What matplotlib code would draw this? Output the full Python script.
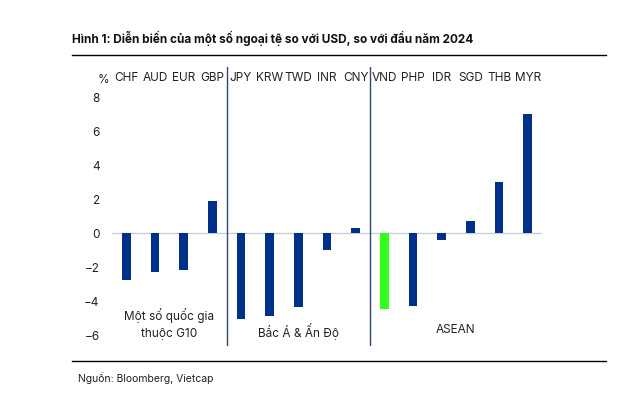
import numpy as np
import matplotlib.pyplot as plt

plt.rcParams['font.family'] = ['Inter', 'DejaVu Sans']

# Data: change vs USD since start of 2024 (%)
currencies = ['CHF', 'AUD', 'EUR', 'GBP', 'JPY', 'KRW', 'TWD', 'INR', 'CNY',
              'VND', 'PHP', 'IDR', 'SGD', 'THB', 'MYR']
changes = [-2.8, -2.32, -2.22, 1.83, -5.07, -4.9, -4.35, -1.05, 0.27,
           -4.5, -4.29, -0.41, 0.68, 2.96, 6.96]
groups = ['Một số quốc gia\nthuộc G10', 'Bắc Á & Ấn Độ', 'ASEAN']
group_sizes = [4, 5, 6]
highlight = 'VND'

navy = '#00318A'
green = '#33FF1F'

fig = plt.figure(figsize=(6.34, 4.10), dpi=100)
ax = fig.add_axes([112 / 634, 1 - 347 / 410, 430 / 634, 279 / 410])

x = np.arange(len(currencies))
colors = [green if c == highlight else navy for c in currencies]
ax.bar(x, changes, width=0.31, color=colors, zorder=3)
ax.axhline(0, color='#C9CED8', lw=1, zorder=1)

ax.set_xlim(-0.5, len(currencies) - 0.5)
ax.set_ylim(-6.65, 9.7)
ax.set_yticks(range(-6, 10, 2))
ax.tick_params(axis='y', length=0, pad=9, labelsize=8.5, labelcolor='#222222')
ax.set_xticks([])
for s in ax.spines.values():
    s.set_visible(False)

# currency labels along the top
for i, c in enumerate(currencies):
    ax.text(i, 9.1, c, ha='center', va='center', fontsize=8.5, color='#222222')
ax.text(-0.6, 9.0, '%', ha='right', va='center', fontsize=8.5, color='#222222',
        transform=ax.transData)

# group dividers and labels
edges = np.cumsum(group_sizes)
for e in edges[:-1]:
    ax.axvline(e - 0.5, color='#34466B', lw=1, zorder=2)
starts = np.concatenate([[0], edges[:-1]])
label_y = [-5.3, -5.75, -5.65]
for g, s, n, ly in zip(groups, starts, group_sizes, label_y):
    ax.text(s + (n - 1) / 2, ly, g, ha='center', va='center', fontsize=8.5,
            color='#222222', linespacing=1.5)

# title, rules and source
fig.text(72 / 634, 1 - 38 / 410, 'Hình 1: Diễn biến của một số ngoại tệ so với USD, so với đầu năm 2024',
         fontsize=8.5, fontweight='bold', ha='left', va='center', color='#111111')
fig.add_artist(plt.Line2D([72 / 634, 606 / 634], [1 - 56 / 410] * 2, color='black', lw=1))
fig.add_artist(plt.Line2D([72 / 634, 606 / 634], [1 - 362 / 410] * 2, color='black', lw=1))
fig.text(78 / 634, 1 - 378 / 410, 'Nguồn: Bloomberg, Vietcap', fontsize=7.5,
         ha='left', va='center', color='#222222')

fig.savefig('out.png', dpi=100)
